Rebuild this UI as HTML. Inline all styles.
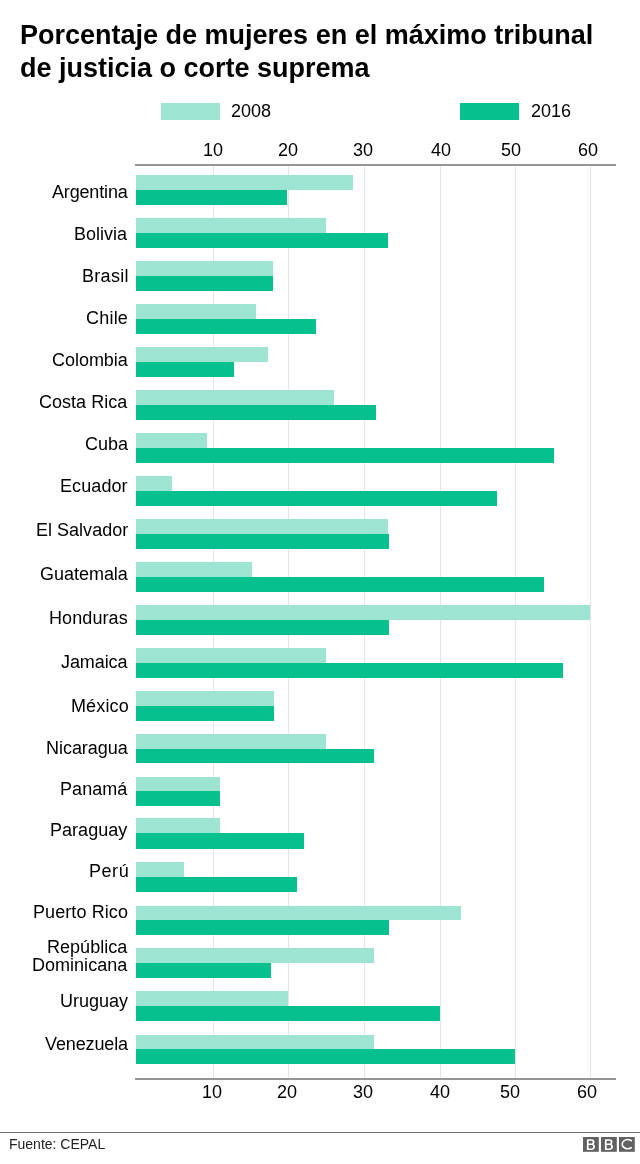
<!DOCTYPE html>
<html><head><meta charset="utf-8"><style>
html,body{margin:0;padding:0;background:#fff;}
body{width:640px;height:1164px;position:relative;overflow:hidden;font-family:"Liberation Sans",sans-serif;}
.r{position:absolute;}
.t{position:absolute;white-space:nowrap;will-change:transform;}
</style></head><body>
<div class="r" style="left:213px;top:166px;width:1px;height:912px;background:#e4e4e4"></div>
<div class="r" style="left:288px;top:166px;width:1px;height:912px;background:#e4e4e4"></div>
<div class="r" style="left:364px;top:166px;width:1px;height:912px;background:#e4e4e4"></div>
<div class="r" style="left:440px;top:166px;width:1px;height:912px;background:#e4e4e4"></div>
<div class="r" style="left:515px;top:166px;width:1px;height:912px;background:#e4e4e4"></div>
<div class="r" style="left:590px;top:166px;width:1px;height:912px;background:#e4e4e4"></div>
<div class="r" style="left:136.0px;top:175px;width:216.9px;height:15px;background:#9de5d2"></div>
<div class="r" style="left:136.0px;top:190px;width:150.8px;height:15px;background:#06c08d"></div>
<div class="r" style="left:136.0px;top:218.2px;width:189.5px;height:14.8px;background:#9de5d2"></div>
<div class="r" style="left:136.0px;top:233px;width:252.0px;height:15px;background:#06c08d"></div>
<div class="r" style="left:136.0px;top:261px;width:137.3px;height:15px;background:#9de5d2"></div>
<div class="r" style="left:136.0px;top:276px;width:137.0px;height:15px;background:#06c08d"></div>
<div class="r" style="left:136.0px;top:304px;width:119.9px;height:15px;background:#9de5d2"></div>
<div class="r" style="left:136.0px;top:319px;width:180.4px;height:15px;background:#06c08d"></div>
<div class="r" style="left:136.0px;top:347.1px;width:132.3px;height:14.9px;background:#9de5d2"></div>
<div class="r" style="left:136.0px;top:362px;width:97.8px;height:14.8px;background:#06c08d"></div>
<div class="r" style="left:136.0px;top:390.1px;width:197.7px;height:14.9px;background:#9de5d2"></div>
<div class="r" style="left:136.0px;top:405px;width:239.6px;height:15px;background:#06c08d"></div>
<div class="r" style="left:136.0px;top:433.3px;width:70.9px;height:14.7px;background:#9de5d2"></div>
<div class="r" style="left:136.0px;top:448px;width:417.8px;height:14.9px;background:#06c08d"></div>
<div class="r" style="left:136.0px;top:476.3px;width:36.3px;height:14.7px;background:#9de5d2"></div>
<div class="r" style="left:136.0px;top:491px;width:361.3px;height:15px;background:#06c08d"></div>
<div class="r" style="left:136.0px;top:519.1px;width:251.9px;height:14.9px;background:#9de5d2"></div>
<div class="r" style="left:136.0px;top:534px;width:253.0px;height:14.6px;background:#06c08d"></div>
<div class="r" style="left:136.0px;top:562px;width:116.3px;height:15px;background:#9de5d2"></div>
<div class="r" style="left:136.0px;top:577px;width:408.2px;height:14.8px;background:#06c08d"></div>
<div class="r" style="left:136.0px;top:604.9px;width:454.3px;height:15.1px;background:#9de5d2"></div>
<div class="r" style="left:136.0px;top:620px;width:253.0px;height:14.5px;background:#06c08d"></div>
<div class="r" style="left:136.0px;top:648.1px;width:189.6px;height:14.9px;background:#9de5d2"></div>
<div class="r" style="left:136.0px;top:663px;width:426.8px;height:14.8px;background:#06c08d"></div>
<div class="r" style="left:136.0px;top:691.2px;width:137.8px;height:14.8px;background:#9de5d2"></div>
<div class="r" style="left:136.0px;top:706px;width:137.8px;height:14.7px;background:#06c08d"></div>
<div class="r" style="left:136.0px;top:734.1px;width:189.6px;height:14.9px;background:#9de5d2"></div>
<div class="r" style="left:136.0px;top:749px;width:237.7px;height:14.4px;background:#06c08d"></div>
<div class="r" style="left:136.0px;top:776.9px;width:84.4px;height:14.1px;background:#9de5d2"></div>
<div class="r" style="left:136.0px;top:791px;width:84.4px;height:14.8px;background:#06c08d"></div>
<div class="r" style="left:136.0px;top:818.4px;width:84.2px;height:14.6px;background:#9de5d2"></div>
<div class="r" style="left:136.0px;top:833px;width:168.3px;height:15.9px;background:#06c08d"></div>
<div class="r" style="left:136.0px;top:862.1px;width:48.0px;height:14.9px;background:#9de5d2"></div>
<div class="r" style="left:136.0px;top:877px;width:161.0px;height:15.1px;background:#06c08d"></div>
<div class="r" style="left:136.0px;top:905.9px;width:325.2px;height:14.1px;background:#9de5d2"></div>
<div class="r" style="left:136.0px;top:920px;width:253.3px;height:14.8px;background:#06c08d"></div>
<div class="r" style="left:136.0px;top:948.3px;width:237.7px;height:14.7px;background:#9de5d2"></div>
<div class="r" style="left:136.0px;top:963px;width:135.1px;height:14.6px;background:#06c08d"></div>
<div class="r" style="left:136.0px;top:991.0px;width:152.0px;height:15.0px;background:#9de5d2"></div>
<div class="r" style="left:136.0px;top:1006px;width:303.9px;height:14.7px;background:#06c08d"></div>
<div class="r" style="left:136.0px;top:1034.8px;width:237.6px;height:14.2px;background:#9de5d2"></div>
<div class="r" style="left:136.0px;top:1049px;width:378.9px;height:14.9px;background:#06c08d"></div>
<div class="r" style="left:135px;top:164px;width:481px;height:2px;background:#959595"></div>
<div class="r" style="left:135px;top:1078px;width:481px;height:2px;background:#959595"></div>
<div class="t" style="left:202.80px;top:140.60px;font-size:18px;line-height:18px;font-weight:400;color:#000">10</div>
<div class="t" style="left:278.33px;top:140.60px;font-size:18px;line-height:18px;font-weight:400;color:#000">20</div>
<div class="t" style="left:353.27px;top:140.60px;font-size:18px;line-height:18px;font-weight:400;color:#000">30</div>
<div class="t" style="left:430.52px;top:140.60px;font-size:18px;line-height:18px;font-weight:400;color:#000">40</div>
<div class="t" style="left:501.40px;top:140.60px;font-size:18px;line-height:18px;font-weight:400;color:#000">50</div>
<div class="t" style="left:578.40px;top:140.60px;font-size:18px;line-height:18px;font-weight:400;color:#000">60</div>
<div class="t" style="left:201.70px;top:1082.90px;font-size:18px;line-height:18px;font-weight:400;color:#000">10</div>
<div class="t" style="left:277.42px;top:1082.90px;font-size:18px;line-height:18px;font-weight:400;color:#000">20</div>
<div class="t" style="left:352.65px;top:1082.90px;font-size:18px;line-height:18px;font-weight:400;color:#000">30</div>
<div class="t" style="left:429.82px;top:1082.90px;font-size:18px;line-height:18px;font-weight:400;color:#000">40</div>
<div class="t" style="left:500.40px;top:1082.90px;font-size:18px;line-height:18px;font-weight:400;color:#000">50</div>
<div class="t" style="left:577.48px;top:1082.90px;font-size:18px;line-height:18px;font-weight:400;color:#000">60</div>
<div class="t" style="left:51.80px;top:182.60px;font-size:18px;line-height:18px;font-weight:400;color:#000;letter-spacing:-0.162px;">Argentina</div>
<div class="t" style="left:74.40px;top:224.80px;font-size:18px;line-height:18px;font-weight:400;color:#000;letter-spacing:0.017px;">Bolivia</div>
<div class="t" style="left:82.30px;top:266.60px;font-size:18px;line-height:18px;font-weight:400;color:#000;letter-spacing:0.29px;">Brasil</div>
<div class="t" style="left:86.40px;top:308.80px;font-size:18px;line-height:18px;font-weight:400;color:#000;letter-spacing:0.212px;">Chile</div>
<div class="t" style="left:51.70px;top:350.70px;font-size:18px;line-height:18px;font-weight:400;color:#000;letter-spacing:-0.029px;">Colombia</div>
<div class="t" style="left:39.30px;top:392.90px;font-size:18px;line-height:18px;font-weight:400;color:#000;letter-spacing:0.022px;">Costa Rica</div>
<div class="t" style="left:84.60px;top:434.70px;font-size:18px;line-height:18px;font-weight:400;color:#000;letter-spacing:-0.033px;">Cuba</div>
<div class="t" style="left:60.20px;top:476.90px;font-size:18px;line-height:18px;font-weight:400;color:#000;letter-spacing:0.092px;">Ecuador</div>
<div class="t" style="left:35.60px;top:520.70px;font-size:18px;line-height:18px;font-weight:400;color:#000;letter-spacing:0.015px;">El Salvador</div>
<div class="t" style="left:39.70px;top:564.80px;font-size:18px;line-height:18px;font-weight:400;color:#000;letter-spacing:-0.025px;">Guatemala</div>
<div class="t" style="left:49.40px;top:608.70px;font-size:18px;line-height:18px;font-weight:400;color:#000;letter-spacing:0.086px;">Honduras</div>
<div class="t" style="left:61.05px;top:652.90px;font-size:18px;line-height:18px;font-weight:400;color:#000;letter-spacing:-0.092px;">Jamaica</div>
<div class="t" style="left:70.60px;top:696.90px;font-size:18px;line-height:18px;font-weight:400;color:#000;letter-spacing:0.13px;">México</div>
<div class="t" style="left:45.80px;top:738.60px;font-size:18px;line-height:18px;font-weight:400;color:#000;letter-spacing:-0.037px;">Nicaragua</div>
<div class="t" style="left:60.20px;top:779.60px;font-size:18px;line-height:18px;font-weight:400;color:#000;letter-spacing:0.06px;">Panamá</div>
<div class="t" style="left:50.30px;top:820.60px;font-size:18px;line-height:18px;font-weight:400;color:#000;letter-spacing:0.029px;">Paraguay</div>
<div class="t" style="left:89.10px;top:861.70px;font-size:18px;line-height:18px;font-weight:400;color:#000;letter-spacing:0.55px;">Perú</div>
<div class="t" style="left:33.40px;top:902.60px;font-size:18px;line-height:18px;font-weight:400;color:#000;letter-spacing:0.085px;">Puerto Rico</div>
<div class="t" style="left:47.30px;top:937.60px;font-size:18px;line-height:18px;font-weight:400;color:#000;letter-spacing:0.025px;">República</div>
<div class="t" style="left:32.30px;top:955.70px;font-size:18px;line-height:18px;font-weight:400;color:#000;letter-spacing:0.022px;">Dominicana</div>
<div class="t" style="left:59.50px;top:991.60px;font-size:18px;line-height:18px;font-weight:400;color:#000;">Uruguay</div>
<div class="t" style="left:44.55px;top:1034.60px;font-size:18px;line-height:18px;font-weight:400;color:#000;letter-spacing:-0.131px;">Venezuela</div>
<div class="t" style="left:20.25px;top:22.20px;font-size:27px;line-height:27px;font-weight:700;color:#000">Porcentaje de mujeres en el máximo tribunal</div>
<div class="t" style="left:20.30px;top:54.60px;font-size:27px;line-height:27px;font-weight:700;color:#000">de justicia o corte suprema</div>
<div class="r" style="left:161px;top:103px;width:59px;height:16.8px;background:#9de5d2"></div>
<div class="r" style="left:460.1px;top:103.2px;width:58.8px;height:16.6px;background:#06c08d"></div>
<div class="t" style="left:231.38px;top:101.80px;font-size:18px;line-height:18px;font-weight:400;color:#000">2008</div>
<div class="t" style="left:531.38px;top:101.80px;font-size:18px;line-height:18px;font-weight:400;color:#000">2016</div>
<div class="r" style="left:0px;top:1132px;width:640px;height:1px;background:#6e6e6e"></div>
<div class="t" style="left:8.55px;top:1136.60px;font-size:14px;line-height:14px;font-weight:400;color:#222">Fuente: CEPAL</div>
<svg class="r" style="left:583px;top:1137px" width="52" height="15" viewBox="0 0 52 15"><rect x="0" y="0" width="15.8" height="14.8" fill="#616161"/><rect x="18" y="0" width="15.8" height="14.8" fill="#616161"/><rect x="36" y="0" width="15.8" height="14.8" fill="#616161"/><path fill="#fff" fill-rule="evenodd" d="M3.9 2.3h4.3c2.1 0 3.3 1 3.3 2.6 0 1.1-.6 1.9-1.6 2.2 1.3.3 2.1 1.2 2.1 2.6 0 1.9-1.4 3.2-3.6 3.2H3.9z M5.6 3.7v2.9h2.3c1.1 0 1.8-.5 1.8-1.45S9 3.7 7.9 3.7z M5.6 8v3.5h2.6c1.3 0 2-.65 2-1.75S9.5 8 8.2 8z"/><path fill="#fff" fill-rule="evenodd" transform="translate(18 0)" d="M3.9 2.3h4.3c2.1 0 3.3 1 3.3 2.6 0 1.1-.6 1.9-1.6 2.2 1.3.3 2.1 1.2 2.1 2.6 0 1.9-1.4 3.2-3.6 3.2H3.9z M5.6 3.7v2.9h2.3c1.1 0 1.8-.5 1.8-1.45S9 3.7 7.9 3.7z M5.6 8v3.5h2.6c1.3 0 2-.65 2-1.75S9.5 8 8.2 8z"/><path fill="none" stroke="#fff" stroke-width="1.6" d="M48.9 3.9L47.6 3.32A5.5 4.5 0 1 0 47.6 10.98L48.9 10.4"/></svg>
</body></html>
